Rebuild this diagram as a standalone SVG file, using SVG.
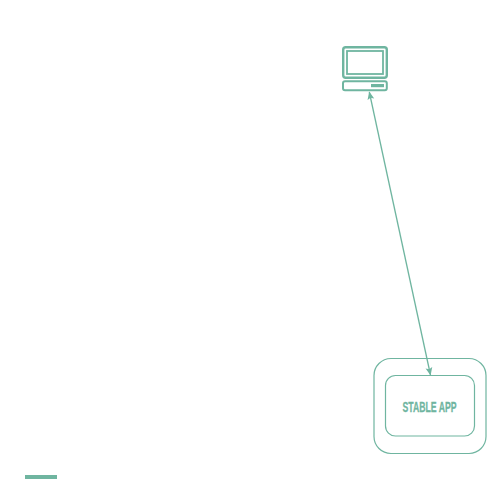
<svg xmlns="http://www.w3.org/2000/svg" width="500" height="500" viewBox="0 0 500 500">
<defs>
<style>
.l{fill:none;stroke:#6fb5a0}
.s{fill:#6fb5a0;stroke:none}
</style>
<marker id="a" viewBox="0 0 8 8" refX="7.5" refY="4" markerWidth="8" markerHeight="8" orient="auto-start-reverse" markerUnits="userSpaceOnUse"><path d="M0 0.6L8 4L0 7.4L1.6 4Z" fill="#6fb5a0"/></marker>
</defs>
<g id="computer">
<rect class="l" x="343.200" y="47.200" width="43.600" height="30.600" rx="2.500" stroke-width="2.400"/>
<rect class="l" x="347" y="51" width="36" height="23" stroke-width="1.800"/>
<rect class="l" x="343" y="81.200" width="43.800" height="9" rx="2" stroke-width="2"/>
<rect class="s" x="371" y="84" width="13" height="3.200"/>
</g>
<g id="stable-app">
<rect class="l" x="374" y="358.500" width="112" height="95" rx="17" stroke-width="1.200"/>
<rect class="l" x="385.500" y="375.500" width="89" height="60.500" rx="10" stroke-width="1.200"/>
<text x="429.500" y="411.500" text-anchor="middle" font-family="'Liberation Sans Narrow','Liberation Sans',sans-serif" font-size="14" font-weight="bold" fill="#6fb5a0" stroke="#6fb5a0" stroke-width="0.300" textLength="54" lengthAdjust="spacingAndGlyphs">STABLE APP</text>
</g>
<g id="connectors">
<line class="l" x1="369.300" y1="92" x2="430.500" y2="375" stroke-width="1.300" marker-start="url(#a)" marker-end="url(#a)"/>
</g>
<rect id="legend-bar" class="s" x="25" y="475" width="32" height="4"/>
</svg>
